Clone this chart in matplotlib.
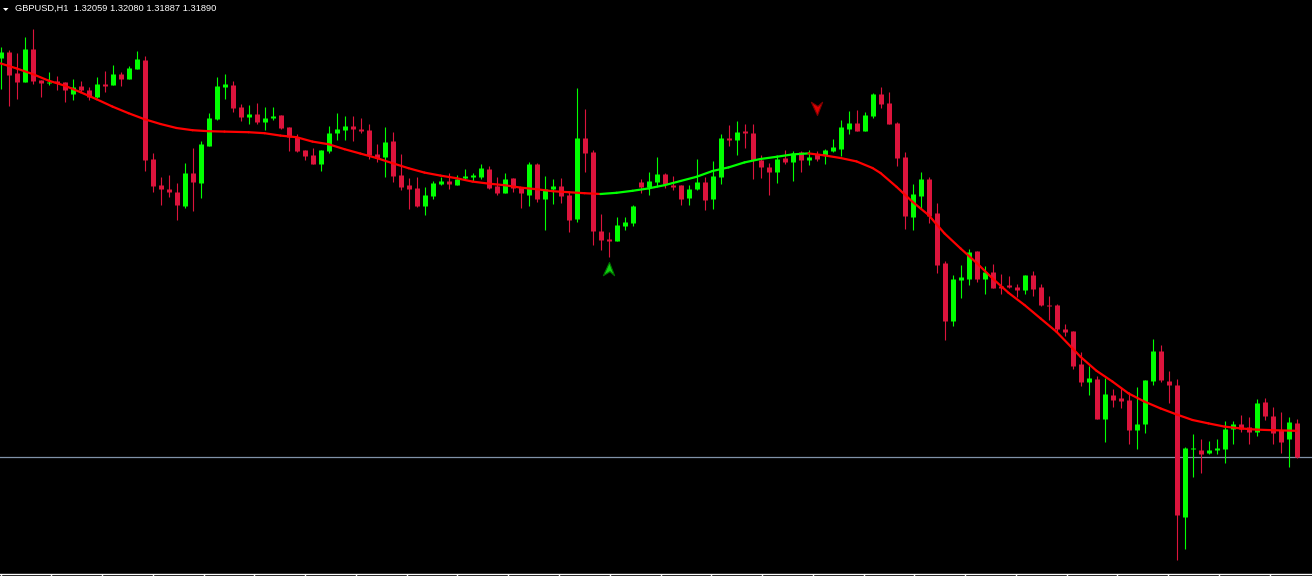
import numpy as np
import matplotlib
matplotlib.use("Agg")
import matplotlib.pyplot as plt
from matplotlib.collections import LineCollection
from matplotlib.path import Path

# GBPUSD H1 candles
symbol = "GBPUSD"
timeframe = "H1"

opens = [
    1.33885, 1.33915, 1.33810, 1.33765, 1.33930, 1.33775, 1.33760, 1.33770, 1.33765, 1.33705,
    1.33745, 1.33725, 1.33690, 1.33755, 1.33750, 1.33805, 1.33780, 1.33830, 1.33875, 1.33380,
    1.33250, 1.33230, 1.33215, 1.33145, 1.33310, 1.33260, 1.33445, 1.33580, 1.33740, 1.33750,
    1.33640, 1.33590, 1.33605, 1.33565, 1.33585, 1.33600, 1.33540, 1.33490, 1.33425, 1.33400,
    1.33355, 1.33420, 1.33510, 1.33525, 1.33545, 1.33530, 1.33525, 1.33405, 1.33390, 1.33470,
    1.33300, 1.33250, 1.33235, 1.33145, 1.33195, 1.33255, 1.33270, 1.33250, 1.33285, 1.33290,
    1.33290, 1.33330, 1.33245, 1.33210, 1.33285, 1.33240, 1.33200, 1.33355, 1.33180, 1.33230,
    1.33245, 1.33200, 1.33080, 1.33485, 1.33415, 1.33020, 1.32980, 1.32970, 1.33045, 1.33060,
    1.33265, 1.33240, 1.33265, 1.33305, 1.33250, 1.33250, 1.33185, 1.33230, 1.33265, 1.33180,
    1.33290, 1.33485, 1.33475, 1.33520, 1.33510, 1.33375, 1.33340, 1.33315, 1.33385, 1.33365,
    1.33415, 1.33375, 1.33405, 1.33400, 1.33420, 1.33430, 1.33530, 1.33560, 1.33520, 1.33595,
    1.33705, 1.33660, 1.33560, 1.33390, 1.33090, 1.33195, 1.33280, 1.33110, 1.32860, 1.32570,
    1.32775, 1.32780, 1.32920, 1.32780, 1.32815, 1.32745, 1.32750, 1.32740, 1.32725, 1.32800,
    1.32740, 1.32650, 1.32650, 1.32530, 1.32520, 1.32355, 1.32265, 1.32280, 1.32080, 1.32200,
    1.32185, 1.32175, 1.32025, 1.32055, 1.32270, 1.32420, 1.32270, 1.32250, 1.31590, 1.31930,
    1.31925, 1.31910, 1.31925, 1.31930, 1.32030, 1.32055, 1.32040, 1.32015, 1.32165, 1.32095,
    1.32025, 1.31980, 1.32059,
]
highs = [
    1.33940, 1.33925, 1.33910, 1.33990, 1.34030, 1.33775, 1.33815, 1.33795, 1.33765, 1.33780,
    1.33770, 1.33740, 1.33790, 1.33820, 1.33850, 1.33815, 1.33845, 1.33920, 1.33895, 1.33410,
    1.33290, 1.33300, 1.33260, 1.33360, 1.33435, 1.33470, 1.33610, 1.33790, 1.33805, 1.33770,
    1.33655, 1.33650, 1.33660, 1.33640, 1.33640, 1.33600, 1.33540, 1.33505, 1.33425, 1.33435,
    1.33425, 1.33545, 1.33610, 1.33595, 1.33595, 1.33585, 1.33555, 1.33455, 1.33540, 1.33515,
    1.33405, 1.33285, 1.33290, 1.33240, 1.33270, 1.33290, 1.33310, 1.33300, 1.33330, 1.33310,
    1.33355, 1.33345, 1.33290, 1.33310, 1.33285, 1.33240, 1.33365, 1.33360, 1.33295, 1.33280,
    1.33285, 1.33220, 1.33735, 1.33630, 1.33425, 1.33105, 1.33015, 1.33090, 1.33090, 1.33150,
    1.33280, 1.33315, 1.33390, 1.33310, 1.33295, 1.33250, 1.33250, 1.33380, 1.33290, 1.33370,
    1.33505, 1.33550, 1.33570, 1.33555, 1.33555, 1.33400, 1.33360, 1.33400, 1.33425, 1.33420,
    1.33420, 1.33425, 1.33420, 1.33430, 1.33480, 1.33575, 1.33620, 1.33625, 1.33615, 1.33710,
    1.33740, 1.33715, 1.33565, 1.33415, 1.33255, 1.33315, 1.33290, 1.33160, 1.32870, 1.32800,
    1.32850, 1.32930, 1.32920, 1.32845, 1.32855, 1.32805, 1.32795, 1.32755, 1.32800, 1.32820,
    1.32755, 1.32695, 1.32655, 1.32555, 1.32520, 1.32415, 1.32345, 1.32295, 1.32285, 1.32230,
    1.32240, 1.32215, 1.32240, 1.32275, 1.32480, 1.32450, 1.32320, 1.32280, 1.31940, 1.32005,
    1.31980, 1.31970, 1.31980, 1.32070, 1.32070, 1.32100, 1.32090, 1.32180, 1.32185, 1.32140,
    1.32115, 1.32090, 1.32080,
]
lows = [
    1.33730, 1.33645, 1.33680, 1.33765, 1.33755, 1.33690, 1.33750, 1.33725, 1.33665, 1.33675,
    1.33715, 1.33675, 1.33685, 1.33715, 1.33750, 1.33745, 1.33780, 1.33830, 1.33320, 1.33215,
    1.33150, 1.33190, 1.33075, 1.33135, 1.33120, 1.33185, 1.33445, 1.33575, 1.33680, 1.33615,
    1.33570, 1.33555, 1.33555, 1.33525, 1.33575, 1.33530, 1.33420, 1.33415, 1.33375, 1.33355,
    1.33320, 1.33410, 1.33475, 1.33475, 1.33470, 1.33510, 1.33380, 1.33365, 1.33290, 1.33265,
    1.33225, 1.33130, 1.33140, 1.33100, 1.33180, 1.33250, 1.33230, 1.33250, 1.33280, 1.33270,
    1.33280, 1.33230, 1.33200, 1.33210, 1.33215, 1.33135, 1.33145, 1.33165, 1.33025, 1.33155,
    1.33160, 1.33015, 1.33065, 1.33315, 1.32950, 1.32925, 1.32890, 1.32970, 1.33025, 1.33045,
    1.33210, 1.33200, 1.33240, 1.33235, 1.33225, 1.33150, 1.33150, 1.33225, 1.33125, 1.33130,
    1.33255, 1.33445, 1.33400, 1.33435, 1.33280, 1.33285, 1.33200, 1.33260, 1.33355, 1.33270,
    1.33315, 1.33350, 1.33370, 1.33355, 1.33415, 1.33395, 1.33505, 1.33520, 1.33520, 1.33585,
    1.33635, 1.33555, 1.33345, 1.33030, 1.33025, 1.33130, 1.33060, 1.32810, 1.32475, 1.32545,
    1.32685, 1.32750, 1.32765, 1.32705, 1.32735, 1.32705, 1.32735, 1.32690, 1.32705, 1.32695,
    1.32645, 1.32575, 1.32515, 1.32495, 1.32330, 1.32245, 1.32200, 1.32080, 1.31965, 1.32140,
    1.32135, 1.31955, 1.31930, 1.32010, 1.32250, 1.32265, 1.32160, 1.31375, 1.31430, 1.31790,
    1.31810, 1.31905, 1.31905, 1.31860, 1.31955, 1.32015, 1.31955, 1.31995, 1.32075, 1.31955,
    1.31910, 1.31840, 1.31887,
]
closes = [
    1.33915, 1.33800, 1.33765, 1.33930, 1.33770, 1.33760, 1.33765, 1.33760, 1.33725, 1.33740,
    1.33725, 1.33690, 1.33755, 1.33745, 1.33805, 1.33780, 1.33835, 1.33880, 1.33375, 1.33245,
    1.33230, 1.33215, 1.33150, 1.33310, 1.33265, 1.33455, 1.33585, 1.33745, 1.33755, 1.33635,
    1.33590, 1.33605, 1.33565, 1.33585, 1.33595, 1.33535, 1.33490, 1.33420, 1.33395, 1.33355,
    1.33425, 1.33510, 1.33530, 1.33545, 1.33530, 1.33520, 1.33400, 1.33385, 1.33465, 1.33295,
    1.33240, 1.33230, 1.33145, 1.33200, 1.33260, 1.33270, 1.33255, 1.33280, 1.33295, 1.33300,
    1.33335, 1.33235, 1.33210, 1.33280, 1.33235, 1.33210, 1.33355, 1.33180, 1.33230, 1.33245,
    1.33195, 1.33075, 1.33485, 1.33410, 1.33020, 1.32975, 1.32970, 1.33050, 1.33065, 1.33145,
    1.33240, 1.33270, 1.33305, 1.33255, 1.33240, 1.33180, 1.33230, 1.33265, 1.33175, 1.33295,
    1.33485, 1.33475, 1.33515, 1.33510, 1.33375, 1.33340, 1.33315, 1.33380, 1.33365, 1.33405,
    1.33375, 1.33390, 1.33380, 1.33425, 1.33440, 1.33540, 1.33560, 1.33520, 1.33600, 1.33705,
    1.33655, 1.33555, 1.33385, 1.33095, 1.33205, 1.33280, 1.33095, 1.32850, 1.32570, 1.32780,
    1.32790, 1.32915, 1.32780, 1.32815, 1.32735, 1.32735, 1.32740, 1.32725, 1.32800, 1.32730,
    1.32650, 1.32645, 1.32530, 1.32515, 1.32345, 1.32265, 1.32285, 1.32080, 1.32205, 1.32175,
    1.32170, 1.32025, 1.32055, 1.32275, 1.32420, 1.32275, 1.32250, 1.31600, 1.31935, 1.31935,
    1.31905, 1.31925, 1.31935, 1.32030, 1.32055, 1.32030, 1.32015, 1.32160, 1.32095, 1.32010,
    1.31965, 1.32065, 1.31890,
]

# smoothed moving average, sampled at these bar numbers
ma_bars = [0, 2, 4, 6, 8, 10, 12, 14, 16, 18, 20, 22, 24, 26, 28, 31, 33, 35, 37, 39,
           41, 43, 45, 47, 49, 51, 53, 55, 57, 59, 61, 63, 65, 67, 69, 71, 73, 75, 77, 79,
           81, 83, 85, 87, 89, 91, 93, 95, 97, 99, 101, 103, 105, 107, 109, 110, 112, 114, 116, 118,
           120, 122, 124, 126, 128, 130, 132, 134, 135, 137, 139, 141, 143, 145, 147, 149, 151, 153, 155, 157,
           159, 162]
ma_vals = [1.33858, 1.33833, 1.33805, 1.33772, 1.33747, 1.33714, 1.33679, 1.33642, 1.33609, 1.33579,
           1.33555, 1.33535, 1.33524, 1.33519, 1.33517, 1.33514, 1.33509, 1.33497, 1.33489, 1.33467,
           1.33454, 1.33429, 1.33407, 1.33385, 1.33359, 1.33334, 1.33312, 1.33297, 1.33284, 1.33267,
           1.33257, 1.33249, 1.33237, 1.33229, 1.33219, 1.33214, 1.33209, 1.33205, 1.33211, 1.33221,
           1.33233, 1.33249, 1.33270, 1.33291, 1.33320, 1.33338, 1.33363, 1.33380, 1.33391, 1.33403,
           1.33408, 1.33398, 1.33385, 1.33368, 1.33335, 1.33310, 1.33241, 1.33166, 1.33100, 1.33008,
           1.32933, 1.32861, 1.32783, 1.32711, 1.32650, 1.32583, 1.32516, 1.32433, 1.32391, 1.32321,
           1.32267, 1.32208, 1.32167, 1.32133, 1.32103, 1.32075, 1.32058, 1.32042, 1.32033, 1.32027,
           1.32024, 1.32021]

# arrow signals: bar number and price at the arrow tip
buy_bars = [76]
buy_prices = [1.32865]
sell_bars = [102]
sell_prices = [1.33600]

bull = "#00FF00"
bear = "#DC143C"

o = np.array(opens)
h = np.array(highs)
l = np.array(lows)
c = np.array(closes)
bars = np.arange(len(o))
up = c >= o
cols = np.where(up, bull, bear)

fig = plt.figure(figsize=(13.12, 5.76), dpi=100, facecolor="black")
ax = fig.add_axes([0, 0, 1, 1])
ax.set_facecolor("black")
ax.axis("off")
ax.set_xlim(-0.0625, 163.9375)
ax.set_ylim(1.31295, 1.34175)

# bid line
ax.axhline(c[-1], color="#8092A8", lw=0.9, zorder=1)

# candles: 1px wicks, 5px bodies
ax.vlines(bars, l, h, colors=cols, lw=0.8, zorder=2)
top = np.maximum(o, c)
bot = np.minimum(o, c)
thin = (top - bot) < 0.00005
top = np.where(thin, (top + bot) / 2 + 0.000025, top)
bot = np.where(thin, (top + bot) / 2 - 0.0000125, bot)
ax.vlines(bars, bot, top, colors=cols, lw=3.6, capstyle="butt", zorder=3)

# moving average, green while rising, red while falling
pts = np.column_stack([ma_bars, ma_vals])
segs = np.stack([pts[:-1], pts[1:]], axis=1)
seg_cols = ["#00FF00" if b > a else "#FF0000" for a, b in zip(ma_vals[:-1], ma_vals[1:])]
ax.add_collection(LineCollection(segs, colors=seg_cols, linewidths=1.6, zorder=4,
                                 capstyle="round"))

# arrows
up_arrow = Path([(0, 0), (5, -13), (0.5, -9), (-6, -13), (0, 0)],
                [Path.MOVETO, Path.LINETO, Path.LINETO, Path.LINETO, Path.CLOSEPOLY])
down_arrow = Path([(0, 0), (-6, 13), (0.5, 9), (5, 13), (0, 0)],
                  [Path.MOVETO, Path.LINETO, Path.LINETO, Path.LINETO, Path.CLOSEPOLY])
ax.plot(buy_bars, buy_prices, ls="none", marker=up_arrow, markersize=19,
        markerfacecolor="#10D010", markeredgecolor="#007000", markeredgewidth=0.8, zorder=5)
ax.plot(sell_bars, sell_prices, ls="none", marker=down_arrow, markersize=19,
        markerfacecolor="#E00000", markeredgecolor="#800000", markeredgewidth=0.8, zorder=5)

# header and bottom time scale, in pixel units
ov = fig.add_axes([0, 0, 1, 1])
ov.set_xlim(0, 1312)
ov.set_ylim(576, 0)
ov.axis("off")
ov.patch.set_alpha(0)
ov.fill([3, 8.5, 5.75], [8, 8, 11], color="white", lw=0)
header = f"{symbol},{timeframe}  {opens[-1]:.5f} {highs[-1]:.5f} {lows[-1]:.5f} {closes[-1]:.5f}"
ov.text(15, 8.2, header, color="white", fontsize=6.7, family="Liberation Sans",
        va="center", ha="left")
ov.plot([0, 1312], [573.5, 573.5], color="white", lw=1.0)
ov.vlines(np.arange(0, 1312, 50.77) + 0.5, 573.5, 576, color="white", lw=1.0)

fig.savefig("out.png", dpi=100, facecolor="black")
